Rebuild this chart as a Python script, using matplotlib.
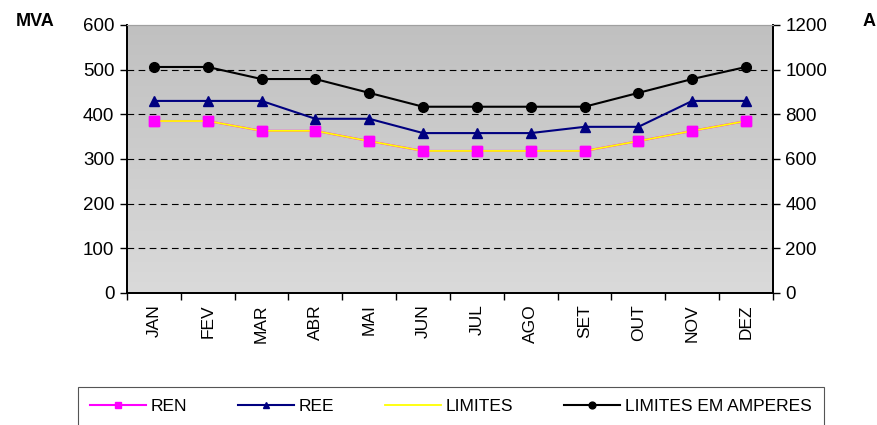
import matplotlib.pyplot as plt
import numpy as np
from matplotlib import font_manager
from matplotlib.colors import LinearSegmentedColormap

# Monthly values
meses = ['JAN', 'FEV', 'MAR', 'ABR', 'MAI', 'JUN', 'JUL', 'AGO', 'SET', 'OUT', 'NOV', 'DEZ']
ren = [385, 385, 363, 363, 340, 318, 318, 318, 318, 340, 363, 385]
ree = [430, 430, 430, 390, 390, 358, 358, 358, 372, 372, 430, 430]
limites = [385, 385, 363, 363, 340, 318, 318, 318, 318, 340, 363, 385]
limites_amp = [1012, 1012, 958, 958, 896, 834, 834, 834, 834, 896, 958, 1012]

names = {f.name for f in font_manager.fontManager.ttflist}
narrow = 'Liberation Sans Narrow' if 'Liberation Sans Narrow' in names else 'Liberation Sans'
plt.rcParams['font.family'] = ['Liberation Sans', 'DejaVu Sans']

fig = plt.figure(figsize=(8.77, 4.25), dpi=100)
ax = fig.add_axes([0.1448, 0.3106, 0.7366, 0.6306])
ax2 = ax.twinx()

x = np.arange(len(meses))

# gray gradient background, darker at the top
grad = np.linspace(0, 1, 256).reshape(-1, 1)
cmap = LinearSegmentedColormap.from_list('g', ['#c0c0c0', '#dadada'])
ax.imshow(grad, cmap=cmap, origin='upper',
          extent=[-0.5, len(meses) - 0.5, 0, 600], aspect='auto', zorder=0)

for v in range(100, 600, 100):
    ax.axhline(v, color='black', lw=0.8, ls=(0, (6, 4)), zorder=1)

l_ren, = ax.plot(x, ren, color='#ff00ff', lw=1.5, marker='s', ms=7, zorder=2, label='REN')
l_lim, = ax.plot(x, limites, color='#ffff00', lw=1.3, zorder=3, label='LIMITES')
ax.plot(x, ren, ls='none', marker='s', ms=7, color='#ff00ff', zorder=4)
l_ree, = ax.plot(x, ree, color='#000080', lw=1.5, marker='^', ms=7, zorder=4, label='REE')
l_amp, = ax2.plot(x, limites_amp, color='black', lw=1.5, marker='o', ms=7, zorder=4, label='LIMITES EM AMPERES')

ax.set_xlim(-0.5, len(meses) - 0.5)
ax.set_ylim(0, 600)
ax2.set_ylim(0, 1200)
ax.set_yticks(range(0, 601, 100))
ax2.set_yticks(range(0, 1201, 200))

ax.set_xticks(x)
ax.set_xticklabels(meses, rotation=90, fontsize=12.5)
ax.set_xticks(np.arange(-0.5, len(meses), 1), minor=True)
ax.tick_params(axis='x', which='major', length=0, pad=8)
ax.tick_params(axis='x', which='minor', length=5, direction='out', width=1)
ax.tick_params(axis='y', labelsize=13.5, length=5, width=1, pad=4)
ax2.tick_params(axis='y', labelsize=13.5, length=5, width=1, pad=4)

for a in (ax, ax2):
    a.spines['top'].set_color('#a0a0a0')
    a.spines['left'].set_linewidth(1.3)
    a.spines['right'].set_linewidth(1.3)
    a.spines['bottom'].set_linewidth(1.3)

fig.text(35 / 877, 1 - 21 / 425, 'MVA', fontsize=13, fontweight='bold', ha='center', va='center')
fig.text(869 / 877, 1 - 21 / 425, 'A', fontsize=13, fontweight='bold', ha='center', va='center')

leg = fig.legend([l_ren, l_ree, l_lim, l_amp], ['REN', 'REE', 'LIMITES', 'LIMITES EM AMPERES'],
                 loc='upper left', bbox_to_anchor=(78 / 877, 1 - 387 / 425, (824 - 78) / 877, 0),
                 mode='expand', ncol=4, fancybox=False, edgecolor='#555555', framealpha=1,
                 prop={'family': narrow, 'size': 12.5}, markerscale=0.7, handlelength=3.2,
                 handletextpad=0.3, borderpad=0.7, columnspacing=1.5, borderaxespad=0)
leg.get_frame().set_linewidth(0.8)

fig.savefig('out.png', dpi=100)
